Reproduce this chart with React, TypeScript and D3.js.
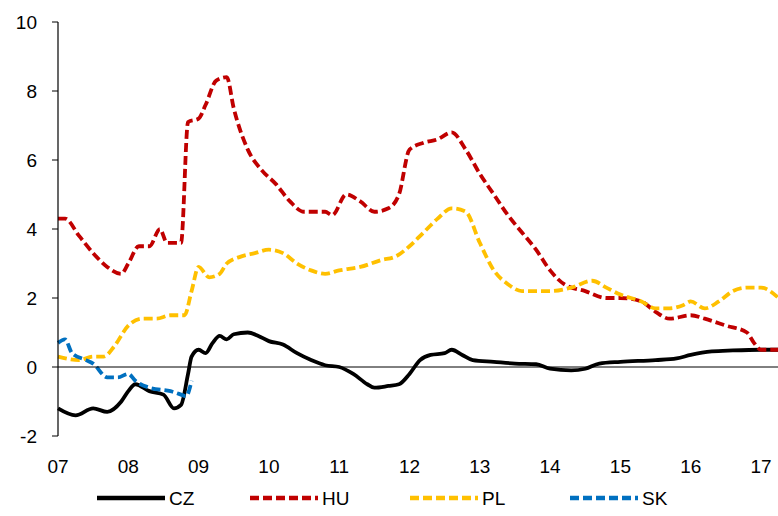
import * as d3 from "d3";

const W = 778;
const H = 516;
const M = { left: 58, right: 778, top: 22, bottom: 436 };

const yearTicks = ["07", "08", "09", "10", "11", "12", "13", "14", "15", "16", "17"];
const yTicks = [-2, 0, 2, 4, 6, 8, 10];

type Pt = [number, number];

const cz: Pt[] = [
  [7.0, -1.2], [7.25, -1.4], [7.5, -1.2], [7.7, -1.3], [7.9, -1.0], [8.0, -0.7], [8.1, -0.5], [8.3, -0.7],
  [8.5, -0.8], [8.65, -1.2], [8.75, -1.1], [8.85, -0.2], [8.9, 0.3], [9.0, 0.5], [9.1, 0.4], [9.2, 0.7],
  [9.3, 0.9], [9.4, 0.8], [9.5, 0.95], [9.7, 1.0], [9.85, 0.9], [10.0, 0.75], [10.2, 0.65], [10.4, 0.4],
  [10.6, 0.2], [10.8, 0.05], [11.0, 0.0], [11.2, -0.2], [11.4, -0.5], [11.5, -0.6], [11.7, -0.55],
  [11.85, -0.5], [12.0, -0.2], [12.15, 0.2], [12.3, 0.35], [12.5, 0.4], [12.6, 0.5], [12.75, 0.35],
  [12.9, 0.2], [13.2, 0.15], [13.5, 0.1], [13.8, 0.08], [14.0, -0.05], [14.3, -0.1], [14.5, -0.05],
  [14.7, 0.1], [15.0, 0.15], [15.5, 0.2], [15.8, 0.25], [16.0, 0.35], [16.3, 0.45], [16.6, 0.48],
  [17.0, 0.5], [17.25, 0.5],
];

const hu: Pt[] = [
  [7.0, 4.3], [7.1, 4.3], [7.3, 3.8], [7.5, 3.3], [7.7, 2.9], [7.9, 2.7], [8.0, 3.0], [8.15, 3.5],
  [8.3, 3.5], [8.45, 4.0], [8.55, 3.6], [8.75, 3.6], [8.85, 7.1], [9.0, 7.2], [9.1, 7.6], [9.25, 8.3],
  [9.4, 8.4], [9.5, 7.5], [9.7, 6.3], [9.9, 5.7], [10.1, 5.3], [10.3, 4.8], [10.5, 4.5], [10.8, 4.5],
  [10.9, 4.4], [11.1, 5.0], [11.3, 4.8], [11.5, 4.5], [11.7, 4.6], [11.85, 5.0], [12.0, 6.3], [12.2, 6.5],
  [12.4, 6.6], [12.6, 6.8], [12.8, 6.3], [13.0, 5.6], [13.2, 5.0], [13.4, 4.4], [13.6, 3.9], [13.8, 3.4],
  [14.0, 2.8], [14.2, 2.4], [14.5, 2.2], [14.8, 2.0], [15.0, 2.0], [15.3, 1.9], [15.5, 1.6], [15.7, 1.4],
  [16.0, 1.5], [16.2, 1.4], [16.5, 1.2], [16.8, 1.0], [16.9, 0.7], [17.0, 0.5], [17.25, 0.5],
];

const pl: Pt[] = [
  [7.0, 0.3], [7.3, 0.2], [7.5, 0.3], [7.65, 0.3], [7.8, 0.6], [8.0, 1.2], [8.2, 1.4], [8.4, 1.4],
  [8.6, 1.5], [8.8, 1.5], [8.9, 2.2], [9.0, 2.9], [9.15, 2.6], [9.3, 2.7], [9.4, 3.0], [9.6, 3.2],
  [9.8, 3.3], [10.0, 3.4], [10.2, 3.3], [10.4, 3.0], [10.6, 2.8], [10.8, 2.7], [11.0, 2.8], [11.3, 2.9],
  [11.6, 3.1], [11.8, 3.2], [12.0, 3.5], [12.2, 3.9], [12.4, 4.3], [12.6, 4.6], [12.8, 4.5], [13.0, 3.6],
  [13.2, 2.8], [13.4, 2.4], [13.6, 2.2], [14.0, 2.2], [14.3, 2.3], [14.6, 2.5], [14.8, 2.3], [15.0, 2.1],
  [15.3, 1.9], [15.5, 1.7], [15.7, 1.7], [15.9, 1.8], [16.0, 1.9], [16.2, 1.7], [16.4, 1.9], [16.6, 2.2],
  [16.8, 2.3], [17.0, 2.3], [17.25, 2.0],
];

const sk: Pt[] = [
  [7.0, 0.7], [7.1, 0.8], [7.2, 0.4], [7.4, 0.2], [7.5, 0.1], [7.7, -0.3], [7.85, -0.3], [8.0, -0.2],
  [8.1, -0.4], [8.3, -0.6], [8.6, -0.7], [8.75, -0.8], [8.82, -0.85], [8.9, -0.4],
];

const series = [
  { name: "CZ", data: cz, color: "#000000", dash: "none" },
  { name: "HU", data: hu, color: "#c00000", dash: "9,4" },
  { name: "PL", data: pl, color: "#ffc000", dash: "9,4" },
  { name: "SK", data: sk, color: "#0070c0", dash: "9,4" },
];

const x = d3.scaleLinear().domain([7, 17]).range([M.left, 761]);
const y = d3.scaleLinear().domain([-2, 10]).range([M.bottom, M.top]);
const line = d3.line<Pt>().x((d) => x(d[0])).y((d) => y(d[1])).curve(d3.curveMonotoneX);

const legendX = [97, 250, 410, 570];

export default function App() {
  return (
    <svg width={W} height={H} style={{ position: "absolute", left: 0, top: 0, fontFamily: "Liberation Sans, Arial, sans-serif" }}>
      <rect width={W} height={H} fill="white" />
      {series.map((s) => (
        <path key={s.name} d={line(s.data) ?? ""} fill="none" stroke={s.color} strokeWidth={3.8} strokeDasharray={s.dash} />
      ))}
      <line x1={M.left} x2={W} y1={y(0)} y2={y(0)} stroke="#000" strokeWidth={1} />
      <line x1={M.left} x2={M.left} y1={M.top} y2={M.bottom} stroke="#000" strokeWidth={1.2} />
      {yTicks.map((t) => (
        <g key={t}>
          <line x1={M.left - 6} x2={M.left} y1={y(t)} y2={y(t)} stroke="#000" />
          <text x={37} y={y(t)} dy="0.35em" textAnchor="end" fontSize={19} fill="#000">{t}</text>
        </g>
      ))}
      {yearTicks.map((t, i) => (
        <text key={t} x={x(7 + i)} y={473} textAnchor="middle" fontSize={19} fill="#000">{t}</text>
      ))}
      {series.map((s, i) => (
        <g key={s.name}>
          <line x1={legendX[i]} x2={legendX[i] + 68} y1={498} y2={498} stroke={s.color} strokeWidth={4.5} strokeDasharray={s.dash} />
          <text x={legendX[i] + 72} y={498} dy="0.35em" fontSize={19} fill="#000">{s.name}</text>
        </g>
      ))}
    </svg>
  );
}
